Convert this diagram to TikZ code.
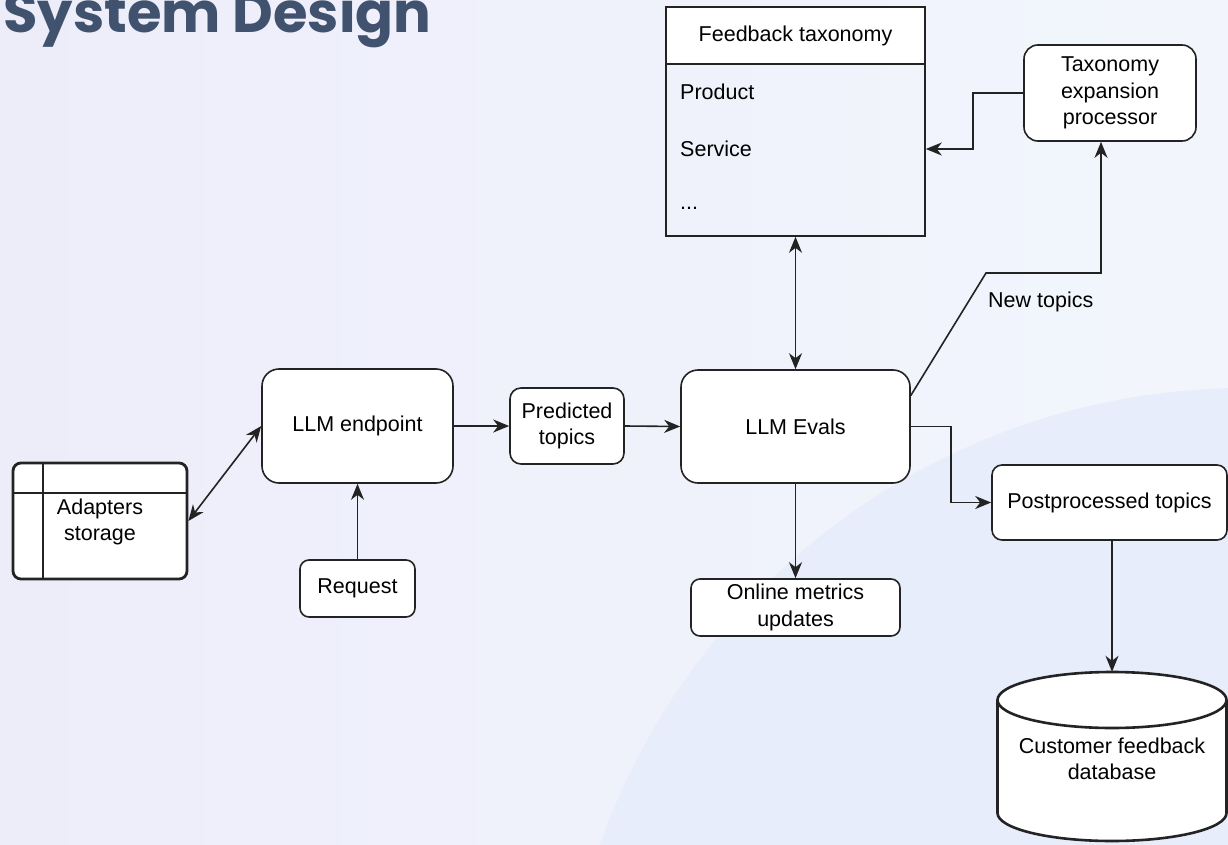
\documentclass[tikz,border=0pt]{standalone}
\usepackage{fontspec}
\setmainfont{Liberation Sans}
\newfontfamily\titlefont{Poppins}
\usetikzlibrary{arrows.meta,calc}
\definecolor{bgL}{RGB}{237,237,250}
\definecolor{bgR}{RGB}{242,246,252}
\definecolor{circ}{RGB}{231,237,250}
\definecolor{titlec}{RGB}{64,82,110}
\definecolor{ln}{RGB}{35,35,35}
\tikzset{
  box/.style={draw=ln, line width=1.6pt, fill=white, rounded corners=#1, inner sep=2pt, align=center, font=\fontsize{21.5}{26.5}\selectfont},
  box/.default=10pt,
  tip/.tip={Stealth[length=16pt,width=13pt,inset=5pt]},
  conn/.style={draw=ln, line width=1.6pt, -tip},
  dconn/.style={draw=ln, line width=1.6pt, tip-tip},
  txt/.style={font=\fontsize{21.5}{26.5}\selectfont, inner sep=0pt}
}
\begin{document}
\begin{tikzpicture}[x=1pt,y=-1pt]
% background
\path[left color=bgL, right color=bgR] (0,0) rectangle (1228,845);
\useasboundingbox (0,0) rectangle (1228,845);
\begin{scope}
\clip (0,0) rectangle (1228,845);
\fill[circ] (1246,1073) circle[radius=685];
\end{scope}
% title
\node[anchor=base west, inner sep=0pt, text=titlec, font=\titlefont\bfseries\fontsize{56}{66}\selectfont] (title) at (3,33) {System Design};

% feedback taxonomy
\node[draw=ln, line width=1.6pt, minimum width=259pt, minimum height=229pt, inner sep=0pt] (fb) at (795.5,121.5) {};
\node[draw=ln, line width=1.6pt, fill=white, minimum width=259pt, minimum height=57pt, inner sep=0pt, txt] (fbh) at (795.5,35.5) {Feedback taxonomy};
\node[txt, anchor=west] (prod) at (680,92) {Product};
\node[txt, anchor=west] (serv) at (680,149) {Service};
\node[txt, anchor=west] (dots) at (680,208) {...};

% taxonomy expansion processor
\node[box=14pt, minimum width=172pt, minimum height=96pt] (tep) at (1110,93) {Taxonomy\\expansion\\processor};

% LLM Evals
\node[box=17pt, minimum width=229pt, minimum height=113pt] (evals) at (795.5,426.5) {LLM Evals};
% LLM endpoint
\node[box=17pt, minimum width=191pt, minimum height=114pt] (endp) at (357.5,426) {LLM endpoint};
% Predicted topics
\node[box=11pt, minimum width=114pt, minimum height=76pt] (pred) at (567,426) {Predicted\\topics};
% Request
\node[box=9pt, minimum width=115pt, minimum height=57pt] (req) at (357.5,588.5) {Request};
% Online metrics
\node[box=9pt, minimum width=209pt, minimum height=57pt] (onl) at (795.5,607.5) {Online metrics\\updates};
% Postprocessed topics
\node[box=10pt, minimum width=235pt, minimum height=75pt] (post) at (1109.5,502.5) {Postprocessed topics};

% Adapters storage
\node[draw=ln, line width=2.8pt, fill=white, rounded corners=8pt, minimum width=174pt, minimum height=116pt, inner sep=0pt] (ads) at (100,521) {};
\draw[ln, line width=2.8pt] (43,463) -- (43,579);
\draw[ln, line width=2.8pt] (13,493) -- (187,493);
\node[txt, align=center] (adst) at (100,522) {Adapters\\storage};

% database
\node[minimum width=229pt, minimum height=171pt, inner sep=0pt] (db) at (1112,757.5) {};
\draw[ln, line width=2.6pt, fill=white] (997.5,700) -- (997.5,813) arc[start angle=180, end angle=0, x radius=114.5, y radius=28] -- (1226.5,700);
\draw[ln, line width=2.6pt, fill=white] (1112,700) ellipse[x radius=114.5, y radius=28];
\node[txt, align=center] (dbt) at (1112,759) {Customer feedback\\database};

% connectors
\draw[conn] (endp.east) -- (pred.west);
\draw[conn] (pred.east) -- (evals.west);
\draw[conn] (req.north) -- (endp.south);
\draw[dconn] (ads.east) -- (endp.west);
\draw[dconn] (fb.south) -- (evals.north);
\draw[conn] (evals.south) -- (onl.north);
\draw[conn] (evals.east) -- ++(40,0) |- (post.west);
\coordinate (nt1) at (986,273);
\draw[conn] ([yshift=31pt]evals.east) -- (nt1) -| ([xshift=-9pt]tep.south);
\node[txt, anchor=west] (ntl) at (988,302) {New topics};
\draw[conn] (tep.west) -- ++(-50,0) |- ([yshift=-27.5pt]fb.east);
\draw[conn] (db.north |- post.south) -- (db.north);
\end{tikzpicture}
\end{document}
